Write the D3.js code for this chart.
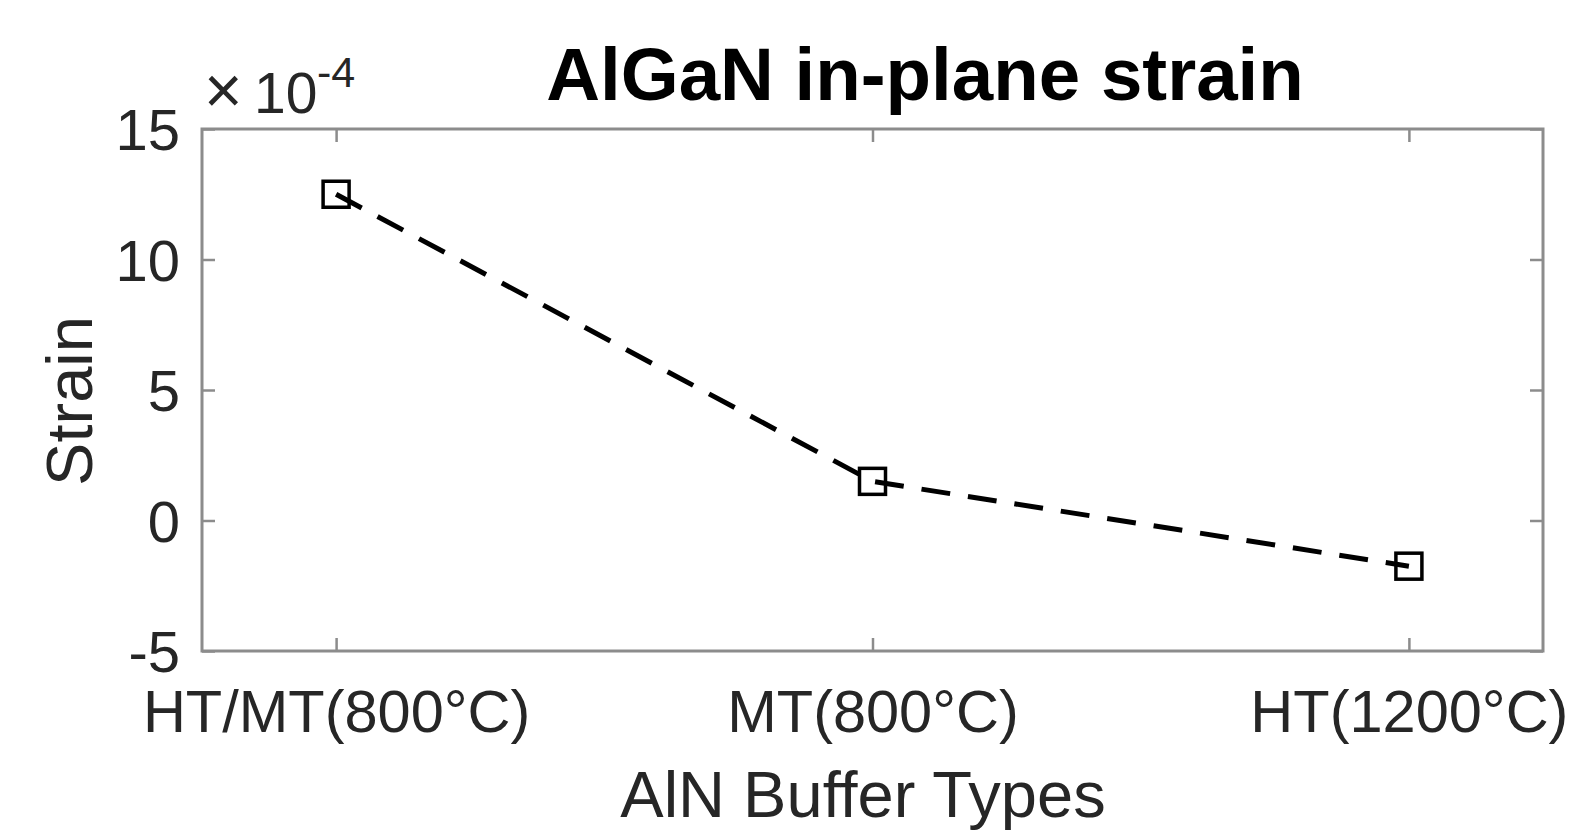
<!DOCTYPE html>
<html>
<head>
<meta charset="utf-8">
<script src="https://cdn.jsdelivr.net/npm/d3@7/dist/d3.min.js"></script>
<style>
  html, body { margin: 0; padding: 0; background: #fff; }
  svg { display: block; }
  text { font-family: "Liberation Sans", Arial, Helvetica, sans-serif; }
</style>
</head>
<body>
<svg id="chart" width="1572" height="837"></svg>
<script>
// Buffer types along the x axis
const categories = ["HT/MT(800\u00B0C)", "MT(800\u00B0C)", "HT(1200\u00B0C)"];
// In-plane strain of the AlGaN layer, in units of 1e-4
const strainValues = [12.5, 1.5, -1.75];
// Y axis ticks (units of 1e-4)
const yTicks = [-5, 0, 5, 10, 15];

const svg = d3.select("#chart");
const box = { left: 202, right: 1543, top: 129, bottom: 651 };

// Category positions 1..3 with a quarter step of padding on either side
const x = d3.scaleLinear().domain([0.75, 3.25]).range([box.left, box.right]);
const y = d3.scaleLinear().domain([-5, 15]).range([box.bottom, box.top]);

const axisColor = "#8c8c8c";
const textColor = "#262626";
const tickLen = 13;

// Axes with inward ticks on all four sides
const gx = svg.append("g").attr("transform", `translate(0,${box.bottom})`)
  .call(d3.axisBottom(x).tickValues([1, 2, 3]).tickSize(-tickLen).tickPadding(81)
    .tickFormat(d => categories[d - 1]));
const gxTop = svg.append("g").attr("transform", `translate(0,${box.top})`)
  .call(d3.axisTop(x).tickValues([1, 2, 3]).tickSize(-tickLen).tickFormat(""));
const gy = svg.append("g").attr("transform", `translate(${box.left},0)`)
  .call(d3.axisLeft(y).tickValues(yTicks).tickSize(-tickLen).tickPadding(22)
    .tickFormat(d => String(d)));
const gyRight = svg.append("g").attr("transform", `translate(${box.right},0)`)
  .call(d3.axisRight(y).tickValues(yTicks).tickSize(-tickLen).tickFormat(""));

[gx, gxTop, gy, gyRight].forEach(g => {
  g.select(".domain").remove();
  g.selectAll(".tick line").attr("stroke", axisColor).attr("stroke-width", 2.5);
  g.selectAll(".tick text").attr("fill", textColor).attr("font-size", 58)
    .attr("font-family", "'Liberation Sans', Arial, sans-serif");
});
gx.selectAll(".tick text").attr("dy", "0").attr("font-size", 59.5);
gy.selectAll(".tick text").attr("dy", "0.36em");

// Plot frame
svg.append("rect")
  .attr("x", box.left).attr("y", box.top)
  .attr("width", box.right - box.left).attr("height", box.bottom - box.top)
  .attr("fill", "none").attr("stroke", axisColor).attr("stroke-width", 3);

// Exponent note above the y axis
svg.append("text").attr("x", 204).attr("y", 113)
  .attr("fill", textColor).attr("font-size", 66).attr("font-weight", 300).text("\u00D7");
svg.append("text").attr("x", 254).attr("y", 113)
  .attr("fill", textColor).attr("font-size", 57).text("10");
svg.append("text").attr("x", 317).attr("y", 87)
  .attr("fill", textColor).attr("font-size", 43).text("-4");

// Dashed data line
const pts = strainValues.map((v, i) => [i + 1, v]);
svg.append("path")
  .datum(pts)
  .attr("d", d3.line().x(d => x(d[0])).y(d => y(d[1])))
  .attr("fill", "none").attr("stroke", "#000").attr("stroke-width", 5)
  .attr("stroke-dasharray", "29,18");

// Square markers
const ms = 26;
svg.selectAll("rect.marker").data(pts).enter().append("rect")
  .attr("class", "marker")
  .attr("x", d => x(d[0]) - ms / 2).attr("y", d => y(d[1]) - ms / 2)
  .attr("width", ms).attr("height", ms)
  .attr("fill", "none").attr("stroke", "#000").attr("stroke-width", 3.5);

// Axis labels and title
svg.append("text").attr("x", 863).attr("y", 817).attr("text-anchor", "middle")
  .attr("fill", textColor).attr("font-size", 65).text("AlN Buffer Types");
svg.append("text").attr("transform", "translate(92,401) rotate(-90)")
  .attr("text-anchor", "middle").attr("fill", textColor).attr("font-size", 65).text("Strain");
svg.append("text").attr("x", 925).attr("y", 100).attr("text-anchor", "middle")
  .attr("fill", "#000").attr("font-size", 74.5).attr("font-weight", "bold")
  .text("AlGaN in-plane strain");
</script>
</body>
</html>
